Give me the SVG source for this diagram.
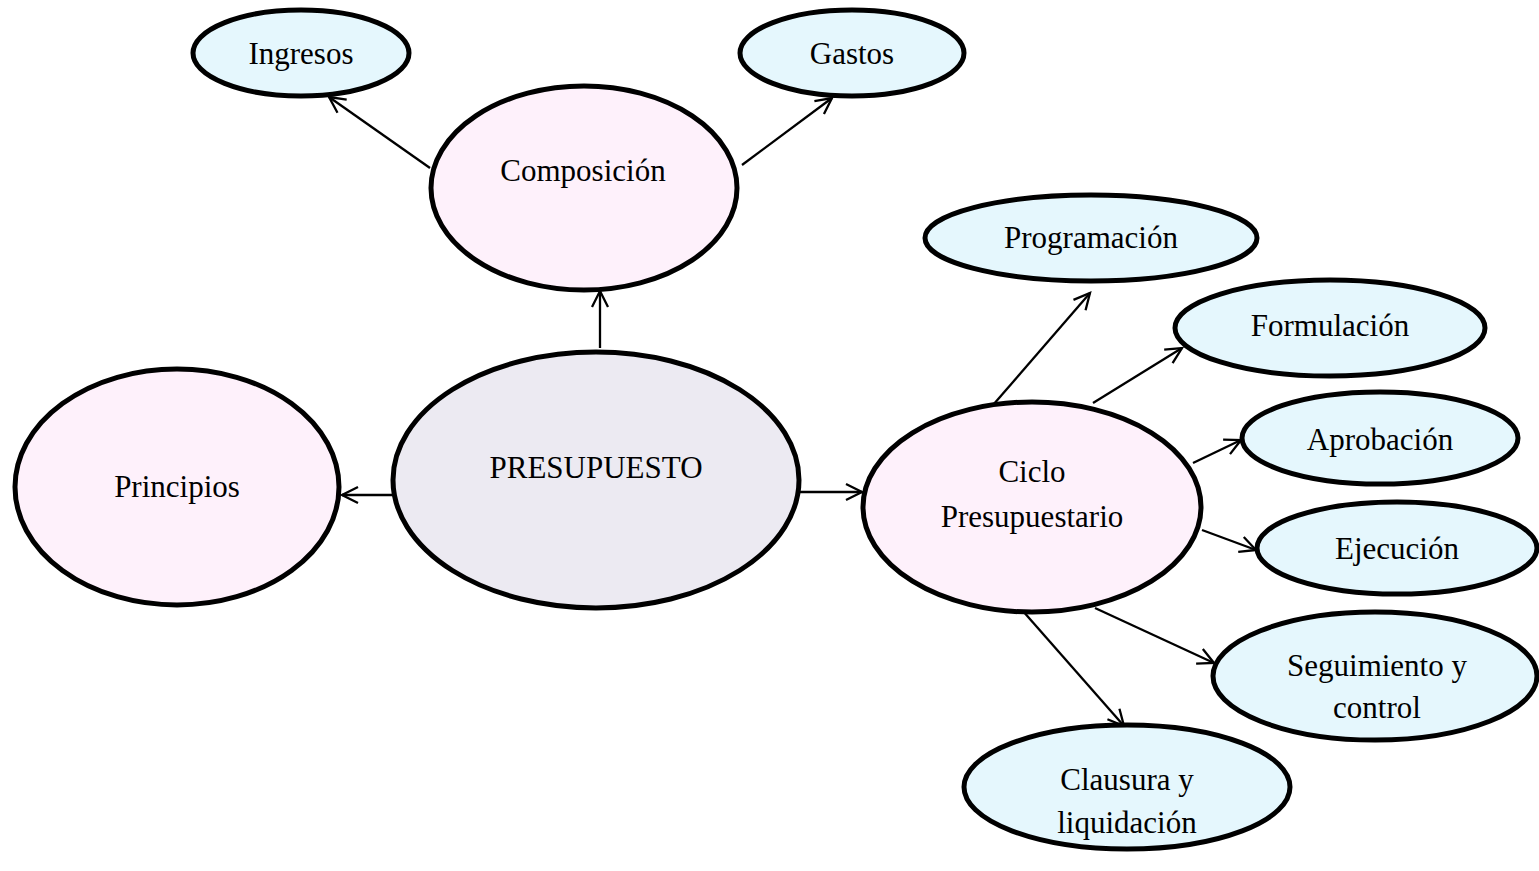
<svg xmlns="http://www.w3.org/2000/svg" width="1539" height="871" viewBox="0 0 1539 871">
<style>
.n{stroke:#000;stroke-width:5}
.b{fill:#E5F7FD}
.p{fill:#FEF1FB}
.g{fill:#ECEAF2}
text{font-family:"Liberation Serif","Times New Roman",serif;font-size:31px;fill:#000;text-anchor:middle;dominant-baseline:central}
.c line{stroke:#000;stroke-width:2.3;marker-end:url(#ah)}
</style>
<defs>
<marker id="ah" markerUnits="userSpaceOnUse" markerWidth="22" markerHeight="22" refX="17" refY="9" orient="auto" viewBox="0 0 22 18">
<path d="M1,1 L17,9 L1,17" fill="none" stroke="#000" stroke-width="2.3"/>
</marker>
</defs>
<rect width="1539" height="871" fill="#fff"/>
<g class="c" id="connectors">
<line x1="430" y1="168" x2="329" y2="97"/>
<line x1="742" y1="165" x2="832" y2="98"/>
<line x1="600" y1="348" x2="600" y2="291"/>
<line x1="393" y1="495" x2="342" y2="495"/>
<line x1="800" y1="492" x2="862" y2="492"/>
<line x1="993" y1="405" x2="1090" y2="293"/>
<line x1="1093" y1="403" x2="1182" y2="348"/>
<line x1="1193" y1="463" x2="1241" y2="440"/>
<line x1="1202" y1="530" x2="1256" y2="550"/>
<line x1="1095" y1="608" x2="1214" y2="663"/>
<line x1="1022" y1="610" x2="1124" y2="726"/>
</g>
<g id="ingresos"><ellipse class="n b" cx="301" cy="53" rx="108" ry="43"/><text x="301" y="53">Ingresos</text></g>
<g id="gastos"><ellipse class="n b" cx="852" cy="53" rx="112" ry="43"/><text x="852" y="53">Gastos</text></g>
<g id="composicion"><ellipse class="n p" cx="584" cy="188" rx="153" ry="102"/><text x="583" y="170">Composición</text></g>
<g id="presupuesto"><ellipse class="n g" cx="596" cy="480" rx="203" ry="128"/><text x="596" y="467">PRESUPUESTO</text></g>
<g id="principios"><ellipse class="n p" cx="177" cy="487" rx="162" ry="118"/><text x="177" y="486">Principios</text></g>
<g id="ciclo"><ellipse class="n p" cx="1032" cy="507" rx="169" ry="105"/><text x="1032" y="471">Ciclo</text><text x="1032" y="516">Presupuestario</text></g>
<g id="programacion"><ellipse class="n b" cx="1091" cy="238" rx="166" ry="43"/><text x="1091" y="237">Programación</text></g>
<g id="formulacion"><ellipse class="n b" cx="1330" cy="328" rx="155" ry="48"/><text x="1330" y="325">Formulación</text></g>
<g id="aprobacion"><ellipse class="n b" cx="1380" cy="438" rx="138" ry="46"/><text x="1380" y="439">Aprobación</text></g>
<g id="ejecucion"><ellipse class="n b" cx="1397" cy="548" rx="140" ry="46"/><text x="1397" y="548">Ejecución</text></g>
<g id="seguimiento"><ellipse class="n b" cx="1375" cy="676" rx="162" ry="64"/><text x="1377" y="665">Seguimiento y</text><text x="1377" y="707">control</text></g>
<g id="clausura"><ellipse class="n b" cx="1127" cy="787" rx="163" ry="62"/><text x="1127" y="779">Clausura y</text><text x="1127" y="822">liquidación</text></g>
</svg>
